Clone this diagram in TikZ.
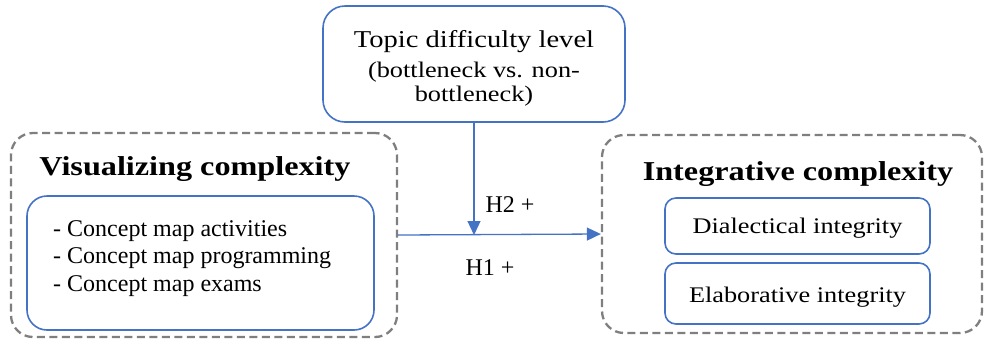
\documentclass[tikz,border=0pt]{standalone}
\usepackage{fontspec}
\setmainfont{Liberation Serif}
\newfontfamily\geo[FakeStretch=1.18]{Liberation Serif}
\usetikzlibrary{arrows.meta}
\definecolor{bl}{HTML}{4472C4}
\definecolor{gr}{HTML}{7F7F7F}
\begin{document}
\begin{tikzpicture}[x=1pt,y=-1pt,
  dashbox/.style={draw=gr, line width=2.3pt, dash pattern=on 8pt off 4.5pt, rounded corners=22pt, inner sep=0pt},
  bluebox/.style={draw=bl, line width=1.6pt, inner sep=0pt},
  conn/.style={draw=bl, line width=1.3pt, -{Triangle[length=14pt,width=13pt]}},
  ttl/.style={font=\geo\bfseries\fontsize{27.3}{30}\selectfont, inner sep=0pt, anchor=base},
  geotxt/.style={font=\geo\fontsize{22.3}{26}\selectfont, inner sep=0pt, anchor=base},
  tms/.style={font=\fontsize{24}{27}\selectfont, inner sep=0pt, anchor=base}]
\useasboundingbox (0,0) rectangle (985,341);
% containers
\node[dashbox, minimum width=386pt, minimum height=204pt] (left) at (204,235) {};
\node[dashbox, minimum width=380pt, minimum height=198pt] (right) at (792,234) {};
\node[bluebox, rounded corners=20pt, minimum width=347pt, minimum height=134pt] (inner) at (200.5,263) {};
\node[bluebox, rounded corners=11pt, minimum width=265pt, minimum height=56pt] (dial) at (797.5,226) {};
\node[bluebox, rounded corners=11pt, minimum width=265pt, minimum height=61pt] (elab) at (797.5,293.5) {};
\node[bluebox, rounded corners=22pt, minimum width=302pt, minimum height=116pt] (top) at (474,64) {};
% texts
\node[ttl] (lt) at (195,175) {Visualizing complexity};
\node[ttl] (rt) at (798,180) {Integrative complexity};
\node[tms, anchor=base west] (b1) at (53,236) {- Concept map activities};
\node[tms, anchor=base west] (b2) at (53,263) {- Concept map programming};
\node[tms, anchor=base west] (b3) at (53,291) {- Concept map exams};
\node[geotxt] (dt) at (797.5,233) {Dialectical integrity};
\node[geotxt] (et) at (797.5,302) {Elaborative integrity};
\node[geotxt, font=\geo\fontsize{24.2}{28}\selectfont] (t1) at (474,47) {Topic difficulty level};
\node[geotxt] (t2) at (474,77) {(bottleneck vs. non-};
\node[geotxt] (t3) at (474,101) {bottleneck)};
% connectors
\coordinate (mid) at (top.south |- left.east);
\draw[conn] (left.east) -- (right.west);
\draw[conn] (top.south) -- (mid);
\node[tms] (h2) at (510,212) {H2 +};
\node[tms] (h1) at (490,275) {H1 +};
\end{tikzpicture}
\end{document}
